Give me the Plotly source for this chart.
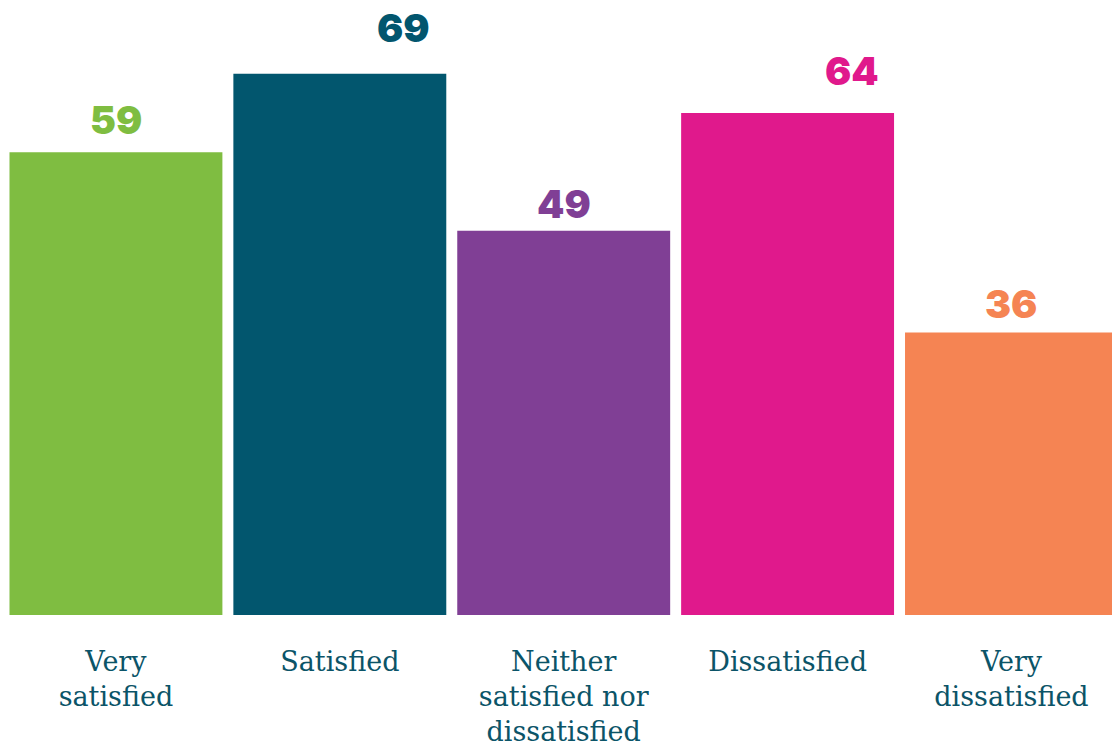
import plotly.graph_objects as go

categories = ["Very<br>satisfied", "Satisfied", "Neither<br>satisfied nor<br>dissatisfied",
              "Dissatisfied", "Very<br>dissatisfied"]
values = [59, 69, 49, 64, 36]
labels = ["59", "69", "49", "64", "36"]

colors = ["#7FBD41", "#02566E", "#803F95", "#E0198C", "#F58453"]
label_xshift = [0, 64, 0, 64, 0]
label_yshift = [33, 46, 27, 42, 29]

fig = go.Figure()
fig.add_trace(go.Bar(
    x=list(range(len(categories))), y=values,
    marker=dict(color=colors, line=dict(width=0)),
    hoverinfo="skip",
))

for i, (v, t) in enumerate(zip(values, labels)):
    fig.add_annotation(
        x=i, y=v, text=t, showarrow=False,
        xanchor="center", yanchor="middle",
        xshift=label_xshift[i], yshift=label_yshift[i],
        font=dict(family="Inter", size=39, color=colors[i], weight=900),
    )

fig.update_layout(
    width=1112, height=749,
    margin=dict(l=3.5, r=0, t=0, b=134),
    paper_bgcolor="white", plot_bgcolor="white",
    bargap=0.049,
    showlegend=False,
    xaxis=dict(
        range=[-0.5, 4.449],
        tickmode="array", tickvals=list(range(len(categories))), ticktext=categories,
        showgrid=False, zeroline=False, showline=False, ticks="",
        tickfont=dict(family="DejaVu Serif", size=27, color="#0B5468"),
        ticklabelstandoff=28,
        fixedrange=True,
    ),
    yaxis=dict(
        range=[0, 78.4], visible=False, showgrid=False, zeroline=False, fixedrange=True,
    ),
)

fig.write_html("out.html", config={"displayModeBar": False},
               post_script="document.body.style.margin='0';document.body.style.overflow='hidden';")
